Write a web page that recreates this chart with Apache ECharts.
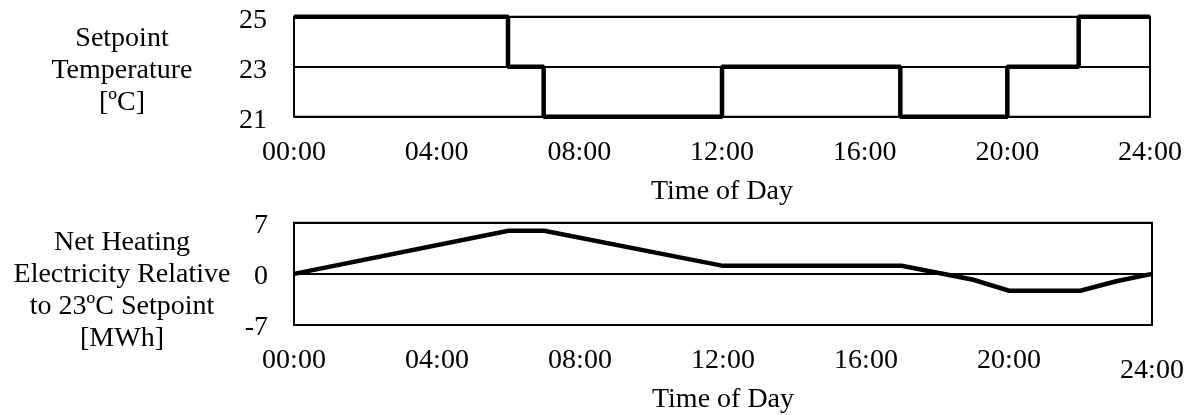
<!DOCTYPE html>
<html>
<head>
<meta charset="utf-8">
<script src="https://cdn.jsdelivr.net/npm/echarts@6/dist/echarts.min.js"></script>
<style>
  html, body { margin: 0; padding: 0; background: #fff; }
  #chart { width: 1194px; height: 415px; }
</style>
</head>
<body>
<div id="chart"></div>
<script>
// Hourly setpoint schedule (step changes) and resulting heating electricity difference
const setpointHours = [0, 6, 7, 12, 17, 20, 22, 24];
const setpointTemps = [25, 23, 21, 23, 21, 23, 25, 25];

const heatHours = [0, 6, 7, 12, 17, 19, 20, 22, 23, 24];
const heatMWh = [0, 5.9, 5.9, 1.1, 1.1, -0.8, -2.3, -2.3, -1.0, 0];

const timeTicks = ['00:00', '04:00', '08:00', '12:00', '16:00', '20:00', '24:00'];

const FONT = '"Liberation Serif", "Times New Roman", serif';
const FS = 28;

function pairs(xs, ys) { return xs.map((x, i) => [x, ys[i]]); }
function tickText(v) { return timeTicks[Math.round(v / 4)]; }

const chart = echarts.init(document.getElementById('chart'), null, { renderer: 'canvas' });

const baseX = {
  type: 'value', min: 0, max: 24, interval: 4,
  axisLine: { show: false }, axisTick: { show: false }, splitLine: { show: false },
  nameLocation: 'middle',
  nameTextStyle: { fontFamily: FONT, fontSize: FS, color: '#000' }
};

function yLabel(shift) {
  return {
    fontFamily: FONT, fontSize: FS, color: '#000',
    formatter: function (v) { return '{v|' + v + '}'; },
    rich: { v: { fontFamily: FONT, fontSize: FS, color: '#000', padding: [shift, 0, 0, 0] } }
  };
}

chart.setOption({
  backgroundColor: '#fff',
  animation: false,
  textStyle: { fontFamily: FONT },
  grid: [
    { left: 294, right: 44, top: 16.7, height: 100, show: true, borderColor: '#000', borderWidth: 2, backgroundColor: 'transparent' },
    { left: 294, right: 42, top: 222.7, height: 102.6, show: true, borderColor: '#000', borderWidth: 2, backgroundColor: 'transparent' }
  ],
  xAxis: [
    Object.assign({}, baseX, {
      gridIndex: 0, name: 'Time of Day', nameGap: 61,
      axisLabel: { margin: 22, fontFamily: FONT, fontSize: FS, color: '#000', formatter: tickText }
    }),
    Object.assign({}, baseX, {
      gridIndex: 1, name: 'Time of Day', nameGap: 58,
      axisLabel: {
        margin: 22, fontFamily: FONT, fontSize: FS, color: '#000',
        formatter: function (v) { return v === 24 ? '{low|' + tickText(v) + '}' : tickText(v); },
        rich: { low: { fontFamily: FONT, fontSize: FS, color: '#000', padding: [10, 0, 0, 0] } }
      }
    })
  ],
  yAxis: [
    {
      type: 'value', gridIndex: 0, min: 21, max: 25, interval: 2,
      axisLine: { show: false }, axisTick: { show: false },
      splitLine: { show: true, lineStyle: { color: '#000', width: 2 } },
      axisLabel: Object.assign({ margin: 27 }, yLabel(7))
    },
    {
      type: 'value', gridIndex: 1, min: -7, max: 7, interval: 7,
      axisLine: { show: false }, axisTick: { show: false },
      splitLine: { show: true, lineStyle: { color: '#000', width: 2 } },
      axisLabel: Object.assign({ margin: 26 }, yLabel(5))
    }
  ],
  series: [
    {
      type: 'line', xAxisIndex: 0, yAxisIndex: 0, step: 'end',
      data: pairs(setpointHours, setpointTemps),
      showSymbol: false, symbol: 'none', clip: false,
      lineStyle: { color: '#000', width: 4.5 }
    },
    {
      type: 'line', xAxisIndex: 1, yAxisIndex: 1,
      data: pairs(heatHours, heatMWh),
      showSymbol: false, symbol: 'none', clip: false,
      lineStyle: { color: '#000', width: 4.5, join: 'miter' }
    }
  ],
  graphic: [
    {
      type: 'text', x: 122, y: 71,
      style: {
        text: 'Setpoint\nTemperature\n[ºC]',
        textAlign: 'center', textVerticalAlign: 'middle',
        fontFamily: FONT, fontSize: FS, lineHeight: 32, fill: '#000'
      }
    },
    {
      type: 'text', x: 122, y: 291,
      style: {
        text: 'Net Heating\nElectricity Relative\nto 23ºC Setpoint\n[MWh]',
        textAlign: 'center', textVerticalAlign: 'middle',
        fontFamily: FONT, fontSize: FS, lineHeight: 32, fill: '#000'
      }
    }
  ]
});
</script>
</body>
</html>
